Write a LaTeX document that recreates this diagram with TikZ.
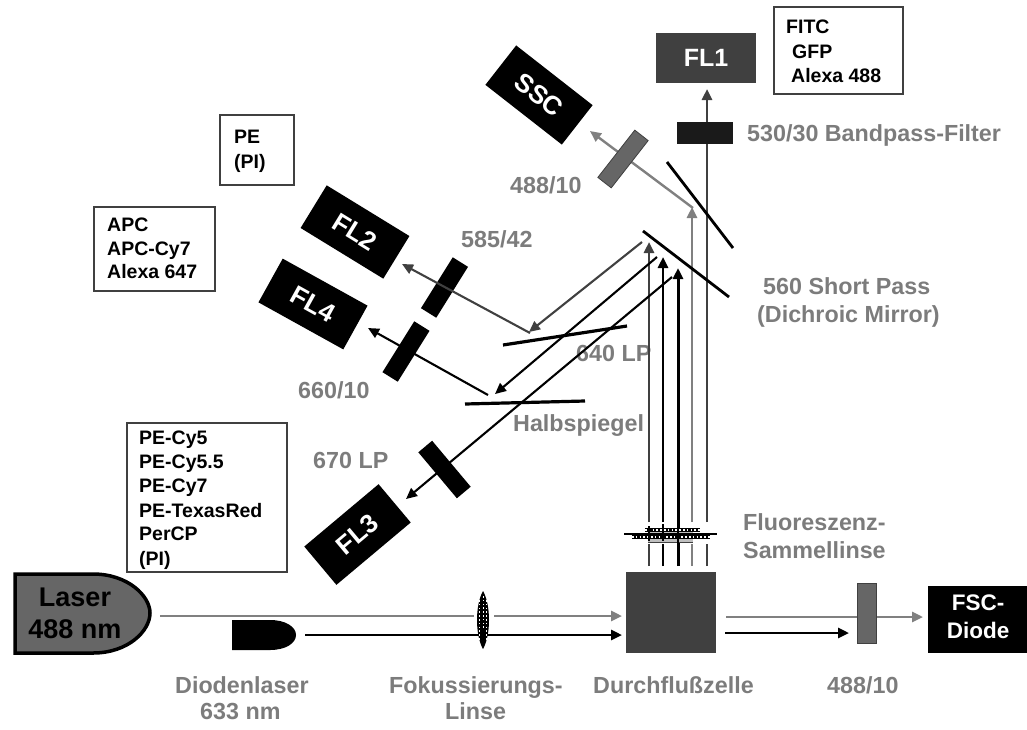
\documentclass[tikz,border=0pt]{standalone}
\usepackage{fontspec}
\setmainfont{Liberation Sans}
\usetikzlibrary{arrows.meta}
\definecolor{dk}{HTML}{404040}
\definecolor{md}{HTML}{666666}
\definecolor{bm}{HTML}{808080}
\definecolor{lb}{HTML}{7C7C7C}
\definecolor{fl}{HTML}{1A1A1A}
\tikzset{
  x=1pt,y=-1pt,
  lab/.style={anchor=base west,inner sep=0pt,text=lb,font=\fontsize{23.3}{23}\selectfont\bfseries},
  dye/.style={anchor=base west,inner sep=0pt,text=black,font=\fontsize{19.5}{20}\selectfont\bfseries},
  dyebox/.style={draw=dk,line width=1.4pt,fill=white,inner sep=0pt},
  det/.style={fill=black,text=white,inner sep=0pt,minimum width=97pt,minimum height=50pt,font=\fontsize{26}{26}\selectfont\bfseries},
  filt/.style={fill=black,inner sep=0pt,minimum width=60pt,minimum height=18pt},
  mirror/.style={line width=2.8pt,black},
  tip/.style={-{Triangle[length=11pt,width=10pt]}},
  beamg/.style={line width=2.6pt,bm},
  beamd/.style={line width=2.6pt,dk},
  beamk/.style={line width=2.6pt,black},
  refl/.style={line width=2.1pt},
  ladder/.style={line width=1.5pt,white,dash pattern=on 1.6pt off 2.2pt}
}
\begin{document}
\begin{tikzpicture}
\useasboundingbox (0,0) rectangle (1027,729);
% named points of the beams
\coordinate (a1) at (649,544); \coordinate (a1u) at (649,522); \coordinate (a1t) at (649,242);
\coordinate (a1b) at (649,566);
\coordinate (a2b) at (663,566); \coordinate (a2) at (663,544); \coordinate (a2u) at (663,522); \coordinate (a2t) at (663,257);
\coordinate (a3b) at (678,566); \coordinate (a3t) at (678,268);
\coordinate (a4b) at (692,566); \coordinate (a4) at (692,544); \coordinate (a4u) at (692,522); \coordinate (a4t) at (692,207);
\coordinate (a5b) at (707,566); \coordinate (a5) at (707,544); \coordinate (a5u) at (707,522); \coordinate (a5t) at (707,89);
\coordinate (s1) at (693,208); \coordinate (s2) at (590,131);
\coordinate (r1a) at (642,242); \coordinate (r1b) at (529,332);
\coordinate (r2a) at (657,257); \coordinate (r2b) at (495,394);
\coordinate (r3a) at (672,277); \coordinate (r3b) at (406,499);
\coordinate (f2a) at (530,333); \coordinate (f2b) at (402,264);
\coordinate (f4a) at (488,395); \coordinate (f4b) at (368,328);
\coordinate (g1) at (160,616); \coordinate (g2) at (474,616); \coordinate (g3) at (494,616); \coordinate (g4) at (622,616);
\coordinate (k1) at (305,635); \coordinate (k2) at (622,635);
\coordinate (h1) at (726,617); \coordinate (h3) at (923,617);
\coordinate (j1) at (725,633); \coordinate (j2) at (849,633);
% mirror ends
\coordinate (m1a) at (667,162); \coordinate (m1b) at (733,248);
\coordinate (m2a) at (643,231); \coordinate (m2b) at (729,297);
\coordinate (m3a) at (503,345); \coordinate (m3b) at (627,326);
\coordinate (m4a) at (465,404); \coordinate (m4b) at (585,401);
% labels drawn first: the vertical beams run over them
\node[lab] (t640) at (576,361) {640 LP};
\node[lab] (thalb) at (513,431) {Halbspiegel};
% beams
\draw[beamd,tip] (a1u) -- (a1t);
\draw[beamd] (a1b) -- (a1);
\draw[beamk,tip] (a2u) -- (a2t);
\draw[beamk] (a2b) -- (a2);
\draw[beamk,tip,line width=3pt] (a3b) -- (a3t);
\draw[beamg,tip] (a4u) -- (a4t);
\draw[beamg] (a4b) -- (a4);
\draw[beamd,tip] (a5u) -- (a5t);
\draw[beamd] (a5b) -- (a5);
\draw[bm,line width=2.4pt,tip] (s1) -- (s2);
\draw[dk,refl,tip] (r1a) -- (r1b);
\draw[black,refl,tip] (r2a) -- (r2b);
\draw[black,refl,tip] (r3a) -- (r3b);
\draw[black,refl,tip] (f4a) -- (f4b);
\draw[beamg,tip] (g3) -- (g4);
\draw[beamg] (g1) -- (g2);
\draw[beamk,tip] (k1) -- (k2);
\draw[beamg] (h1) -- (857,617);
\draw[beamg,tip] (876,617) -- (h3);
\draw[beamk,tip] (j1) -- (j2);
% mirrors
\draw[mirror] (m1a) -- (m1b);
\draw[mirror] (m2a) -- (m2b);
\draw[mirror,line width=3.2pt] (m3a) -- (m3b);
\draw[mirror,line width=3.2pt] (m4a) -- (m4b);
% detectors
\node[fill=dk,text=white,inner sep=0pt,minimum width=100pt,minimum height=50pt,font=\fontsize{25}{25}\selectfont\bfseries] (fl1) at (706,58) {FL1};
\node[det,rotate=-38] (ssc) at (539,95) {SSC};
\node[det,rotate=-31.5] (fl2) at (355,232) {FL2};
\node[det,rotate=-29] (fl4) at (313,304) {FL4};
\node[det,rotate=40] (fl3) at (357.5,534.5) {FL3};
\node[fill=black,inner sep=0pt,minimum width=99pt,minimum height=67pt] (fsc) at (977.5,619.5) {};
\node[anchor=base,inner sep=0pt,text=white,font=\fontsize{22.5}{22}\selectfont\bfseries] (fsc1) at (978,610) {FSC-};
\node[anchor=base,inner sep=0pt,text=white,font=\fontsize{22.5}{22}\selectfont\bfseries] (fsc2) at (978,638) {Diode};
% filters
\node[fill=fl,inner sep=0pt,minimum width=56pt,minimum height=22pt] (f530) at (705,133) {};
\node[filt,fill=md,draw=dk,line width=.8pt,rotate=52,minimum height=17pt] (f488a) at (623,159) {};
\node[filt,rotate=58] (f585) at (444.5,287.5) {};
\node[filt,rotate=58] (f660) at (406,351.5) {};
\node[filt,rotate=-50] (f670) at (444.5,469.5) {};
\node[fill=md,draw=dk,line width=1pt,inner sep=0pt,minimum width=19pt,minimum height=60pt] (f488b) at (866.5,613) {};
\draw[dk,refl,tip] (f2a) -- (f2b);
% flow cell
\node[fill=dk,inner sep=0pt,minimum width=90pt,minimum height=81pt] (cell) at (671,612.5) {};
% lasers
\draw[fill=md,draw=black,line width=3.5pt,line join=miter] (15,574) -- (93,574)
  .. controls (128,574) and (150,596) .. (150,613)
  .. controls (150,631) and (128,653) .. (93,653) -- (15,653) -- cycle;
\node[anchor=base,inner sep=0pt,font=\fontsize{27}{27}\selectfont\bfseries] (las1) at (75,606) {Laser};
\node[anchor=base,inner sep=0pt,font=\fontsize{27}{27}\selectfont\bfseries] (las2) at (75,638) {488 nm};
\fill[black] (232,620) -- (270,620) .. controls (286,620) and (296,627) .. (296,635)
  .. controls (296,643) and (286,650) .. (270,650) -- (232,650) -- cycle;
% focusing lens
\fill[black] (483,591) .. controls (491,605) and (491,635) .. (483,649) .. controls (475,635) and (475,605) .. (483,591) -- cycle;
\draw[ladder] (479.5,600) -- (479.5,642);
\draw[ladder] (486.5,600) -- (486.5,642);
\draw[ladder,line width=1pt] (483,596) -- (483,630);
% collecting lens
\fill[black!25] (648,530) rectangle (693,542);
\draw[black,line width=3.4pt] (645,530) -- (700,530);
\draw[black,line width=3.4pt] (632,537) -- (710,537);
\draw[ladder] (645,530) -- (700,530);
\draw[ladder] (632,537) -- (710,537);
\draw[black,line width=1.2pt] (624,534) -- (717,534);
\draw[dk,line width=1pt] (648,542) -- (693,542);
\draw[beamk,line width=2pt] (649,526) -- (649,541);
\draw[beamk,line width=2pt] (663,524) -- (663,541);
\draw[beamk,line width=2.6pt] (678,520) -- (678,548);
% dye boxes
\node[dyebox,minimum width=129pt,minimum height=87pt] (bfitc) at (838.5,50.5) {};
\node[dyebox,minimum width=74pt,minimum height=70pt] (bpe) at (257,150) {};
\node[dyebox,minimum width=121pt,minimum height=84pt] (bapc) at (154.5,249) {};
\node[dyebox,minimum width=160pt,minimum height=149pt] (bcy) at (207,497.5) {};
\node[dye] (d1) at (786,33) {FITC};
\node[dye] (d2) at (792,58) {GFP};
\node[dye] (d3) at (791,82) {Alexa 488};
\node[dye] (d4) at (234,143) {PE};
\node[dye] (d5) at (234,168) {(PI)};
\node[dye] (d6) at (107,231) {APC};
\node[dye] (d7) at (107,255) {APC-Cy7};
\node[dye] (d8) at (107,278) {Alexa 647};
\node[dye] (d9) at (139,444) {PE-Cy5};
\node[dye] (d10) at (139,468) {PE-Cy5.5};
\node[dye] (d11) at (139,492) {PE-Cy7};
\node[dye] (d12) at (139,517) {PE-TexasRed};
\node[dye] (d13) at (139,540) {PerCP};
\node[dye] (d14) at (139,565) {(PI)};
% grey labels
\node[lab] (t530) at (747,141) {530/30 Bandpass-Filter};
\node[lab] (t488a) at (510,193) {488/10};
\node[lab] (t585) at (461,247) {585/42};
\node[lab] (t660) at (298,398) {660/10};
\node[lab] (t670) at (313,468) {670 LP};
\node[lab] (t560) at (763,294) {560 Short Pass};
\node[lab] (tdic) at (757,322) {(Dichroic Mirror)};
\node[lab] (tflu) at (743,530) {Fluoreszenz-};
\node[lab] (tsam) at (743,558) {Sammellinse};
\node[lab] (tdio) at (175,693) {Diodenlaser};
\node[lab] (t633) at (200,719) {633 nm};
\node[lab] (tfok) at (389,693) {Fokussierungs-};
\node[lab] (tlin) at (445,719) {Linse};
\node[lab] (tdur) at (593,693) {Durchflußzelle};
\node[lab] (t488b) at (827,693) {488/10};
\end{tikzpicture}
\end{document}
